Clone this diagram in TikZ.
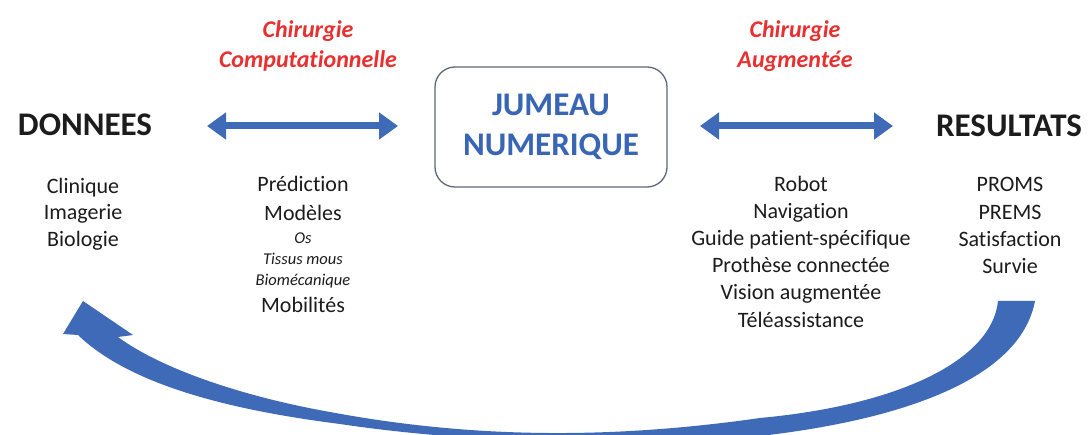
\documentclass[tikz,border=0pt]{standalone}
\usepackage{fontspec}
\setmainfont{Carlito}[Ligatures={NoCommon}]
\usetikzlibrary{arrows.meta}
\definecolor{arrowblue}{RGB}{62,106,184}
\definecolor{titleblue}{RGB}{56,102,180}
\definecolor{redlabel}{RGB}{232,48,48}
\definecolor{txt}{RGB}{28,28,28}
\definecolor{boxline}{RGB}{95,105,122}
\begin{document}
\begin{tikzpicture}[x=1pt,y=-1pt,
  bigtitle/.style={font=\fontsize{33}{40}\selectfont\bfseries, text=txt, inner sep=0pt, anchor=base},
  redlab/.style={font=\fontsize{24}{30}\selectfont\bfseries\itshape, text=redlabel, inner sep=0pt, anchor=base},
  item/.style={font=\fontsize{22}{27}\selectfont, text=txt, inner sep=0pt, anchor=base},
  subitem/.style={font=\fontsize{16.5}{20}\selectfont\itshape, text=txt, inner sep=0pt, anchor=base},
  dbl/.style={arrowblue, line width=7pt, {Triangle[length=19pt,width=26pt]}-{Triangle[length=19pt,width=26pt]}},
  twin/.style={draw=boxline, line width=1.3pt, rounded corners=20pt, fill=white, minimum width=232pt, minimum height=120pt, align=center, text=titleblue, font=\fontsize{33}{40}\selectfont\bfseries, inner sep=0pt}
]
\clip (0,0) rectangle (1089,435);
\fill[white] (0,0) rectangle (1089,435);

% red labels
\node[redlab] (cc1) at (308,37.5) {Chirurgie};
\node[redlab] (cc2) at (308,67.5) {Computationnelle};
\node[redlab] (ca1) at (795,37.5) {Chirurgie};
\node[redlab] (ca2) at (795,67.5) {Augmentée};

% titles
\node[bigtitle] (donnees) at (85,135.5) {DONNEES};
\node[bigtitle] (resultats) at (1009,137) {RESULTATS};
\node[twin] (jumeau) at (551,127) {JUMEAU\\NUMERIQUE};

% double arrows
\coordinate (dl) at (207,126);
\coordinate (dr) at (398,126);
\coordinate (rl) at (700,126);
\coordinate (rr) at (893,126);
\draw[dbl] (dl) -- (dr);
\draw[dbl] (rl) -- (rr);

% left list
\node[item] (d1) at (83,194) {Clinique};
\node[item] (d2) at (83,220) {Imagerie};
\node[item] (d3) at (83,247) {Biologie};

% middle list
\node[item] (m1) at (303,192) {Prédiction};
\node[item] (m2) at (303,221) {Modèles};
\node[subitem] (m3) at (303,244) {Os};
\node[subitem] (m4) at (303,265) {Tissus mous};
\node[subitem] (m5) at (303,286) {Biomécanique};
\node[item] (m6) at (303,313) {Mobilités};

% right list
\node[item] (a1) at (801,192) {Robot};
\node[item] (a2) at (801,219) {Navigation};
\node[item] (a3) at (801,246) {Guide patient-spécifique};
\node[item] (a4) at (801,273) {Prothèse connectée};
\node[item] (a5) at (801,300) {Vision augmentée};
\node[item] (a6) at (801,327) {Téléassistance};

% results list
\node[item] (r1) at (1010,192) {PROMS};
\node[item] (r2) at (1010,220) {PREMS};
\node[item] (r3) at (1010,247) {Satisfaction};
\node[item] (r4) at (1010,274) {Survie};

% big curved return arrow
\fill[arrowblue]
  (998,301) .. controls (992,360) and (900,405) .. (760,418)
  .. controls (620,438) and (480,440) .. (330,412)
  .. controls (240,396) and (160,368) .. (118,337)
  -- (133,335) -- (83,301) -- (63,334) -- (78,335)
  .. controls (130,385) and (230,410) .. (340,424)
  .. controls (460,442) and (620,448) .. (760,436)
  .. controls (900,420) and (1020,380) .. (1035,301)
  -- cycle;
\end{tikzpicture}
\end{document}
